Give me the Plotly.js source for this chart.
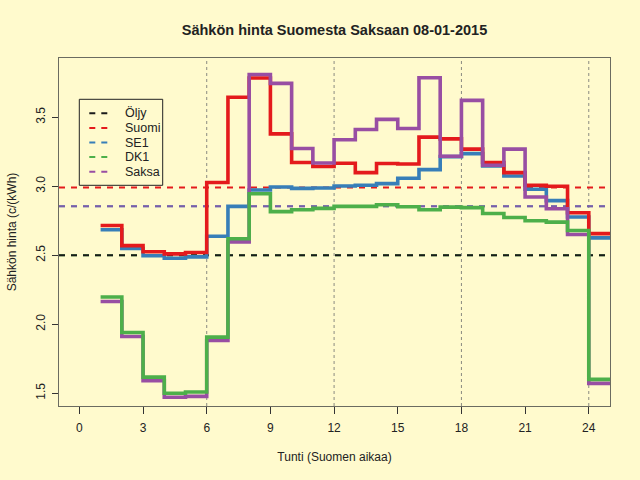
<!DOCTYPE html>
<html>
<head>
<meta charset="utf-8">
<script src="https://cdn.plot.ly/plotly-3.0.1.min.js"></script>
<style>
  html, body { margin: 0; padding: 0; background: #FFFACD; }
  #chart { width: 640px; height: 480px; }
</style>
</head>
<body>
<div id="chart"></div>
<script>
// Hourly prices (c/kWh), hours 1..24 (Finnish time)
const hours = [1, 2, 3, 4, 5, 6, 7, 8, 9, 10, 11, 12, 13, 14, 15, 16, 17, 18, 19, 20, 21, 22, 23, 24, 25];
const suomi = [2.716, 2.570, 2.525, 2.510, 2.520, 3.027, 3.645, 3.785, 3.380, 3.172, 3.143, 3.167,
               3.099, 3.165, 3.162, 3.356, 3.344, 3.269, 3.172, 3.099, 3.007, 3.000, 2.808, 2.657];
const se1   = [2.685, 2.549, 2.496, 2.478, 2.488, 2.638, 2.854, 2.973, 2.995, 2.985, 2.987, 3.002,
               3.007, 3.019, 3.058, 3.121, 3.215, 3.237, 3.147, 3.075, 2.978, 2.896, 2.777, 2.626];
const dk1   = [2.197, 1.940, 1.616, 1.499, 1.509, 1.906, 2.620, 2.946, 2.816, 2.830, 2.840, 2.854,
               2.854, 2.866, 2.852, 2.830, 2.849, 2.845, 2.803, 2.774, 2.750, 2.740, 2.679, 1.600];
const saksa = [2.165, 1.911, 1.591, 1.470, 1.477, 1.882, 2.597, 3.810, 3.746, 3.274, 3.169, 3.337,
               3.412, 3.485, 3.419, 3.787, 3.218, 3.623, 3.152, 3.269, 2.922, 2.837, 2.650, 1.571];

// Reference levels (dashed lines): oil, then the average of each area
const legendNames = ['Öljy', 'Suomi', 'SE1', 'DK1', 'Saksa'];
const levelValues = [2.500, 2.992, 2.855, 2.500, 2.855];
const levelColors = ['#1a1a1a', '#E41A1C', '#377EB8', '#4DAF4A', '#984EA3'];

const xTicks = [0, 3, 6, 9, 12, 15, 18, 21, 24];
const yTicks = [1.5, 2.0, 2.5, 3.0, 3.5];
const gridHours = [6, 12, 18, 24];

const xRange = [-0.96, 25];
const yRange = [1.407, 3.93];

const BG = '#FFFACD';
const FONT = 'Liberation Sans, Arial, Helvetica, sans-serif';
const M = { l: 59, r: 30, t: 58, b: 74 };
const PW = 640 - M.l - M.r, PH = 480 - M.t - M.b;
const px = x => (x - M.l) / PW;
const py = y => (M.t + PH - y) / PH;

const traces = [];

// dashed reference lines (DK1 under the oil line, SE1 under Saksa)
[3, 0, 1, 2, 4].forEach(i => {
    traces.push({
        x: xRange, y: [levelValues[i], levelValues[i]],
        type: 'scatter', mode: 'lines', hoverinfo: 'skip', showlegend: false,
        opacity: i === 4 ? 0.7 : 1,
        line: { color: levelColors[i], width: 2, dash: '6px,6px' },
    });
});

// step series
const stepLine = (vals, color) => ({
    x: hours, y: vals.concat(vals[vals.length - 1]),
    type: 'scatter', mode: 'lines', showlegend: false,
    line: { color: color, width: 3.6, shape: 'hv' },
});
traces.push(stepLine(se1, levelColors[2]));
traces.push(stepLine(suomi, levelColors[1]));
traces.push(stepLine(saksa, levelColors[4]));
traces.push(stepLine(dk1, levelColors[3]));

// vertical dotted grid lines
const shapes = gridHours.map(h => ({
    type: 'line', xref: 'x', yref: 'paper', x0: h, x1: h, y0: 0, y1: 1, layer: 'below',
    line: { color: '#8a8a80', width: 1, dash: 'dot' },
}));

// hand-drawn legend box (R style)
const lgLeft = 79.3, lgRight = 162.7, lgTop = 99.3, lgBottom = 185.3;
shapes.push({
    type: 'rect', xref: 'paper', yref: 'paper',
    x0: px(lgLeft), x1: px(lgRight), y0: py(lgBottom), y1: py(lgTop),
    line: { color: '#222', width: 1 }, fillcolor: BG, layer: 'above',
});
const annotations = [];
legendNames.forEach((name, i) => {
    const yy = 113.3 + i * 14.6;
    shapes.push({
        type: 'line', xref: 'paper', yref: 'paper',
        x0: px(89.3), x1: px(109.3), y0: py(yy), y1: py(yy), layer: 'above',
        line: { color: levelColors[i], width: 2, dash: '6px,6px' },
    });
    annotations.push({
        xref: 'paper', yref: 'paper', x: px(123), y: py(yy),
        xanchor: 'left', yanchor: 'middle', showarrow: false,
        text: name, font: { family: FONT, size: 12.5, color: '#222' },
    });
});

const layout = {
    width: 640, height: 480,
    margin: M,
    paper_bgcolor: BG, plot_bgcolor: BG,
    font: { family: FONT, size: 12, color: '#222' },
    title: {
        text: 'Sähkön hinta Suomesta Saksaan 08-01-2015',
        font: { family: FONT, size: 14.5, weight: 'bold', color: '#222' },
        x: 0.5, xref: 'paper', y: 1 - 30 / 480, yref: 'container', yanchor: 'middle',
    },
    xaxis: {
        range: xRange, tickvals: xTicks, ticktext: xTicks.map(String),
        ticks: 'outside', ticklen: 7, tickcolor: '#333', tickwidth: 1, ticklabelstandoff: 4,
        showline: true, mirror: true, linecolor: '#6b6b60', linewidth: 1,
        showgrid: false, zeroline: false,
        title: { text: 'Tunti (Suomen aikaa)', standoff: 18, font: { family: FONT, size: 12 } },
        automargin: false,
    },
    yaxis: {
        range: yRange, tickvals: yTicks, ticktext: yTicks.map(v => v.toFixed(1)),
        tickangle: -90,
        ticks: 'outside', ticklen: 6, tickcolor: '#333', tickwidth: 1, ticklabelstandoff: 2,
        showline: true, mirror: true, linecolor: '#6b6b60', linewidth: 1,
        showgrid: false, zeroline: false,
        title: { text: 'Sähkön hinta (c/(kWh)', standoff: 15, font: { family: FONT, size: 12 } },
        automargin: false,
    },
    shapes: shapes,
    annotations: annotations,
    showlegend: false,
};

Plotly.newPlot('chart', traces, layout, { displayModeBar: false, staticPlot: true });
</script>
</body>
</html>
